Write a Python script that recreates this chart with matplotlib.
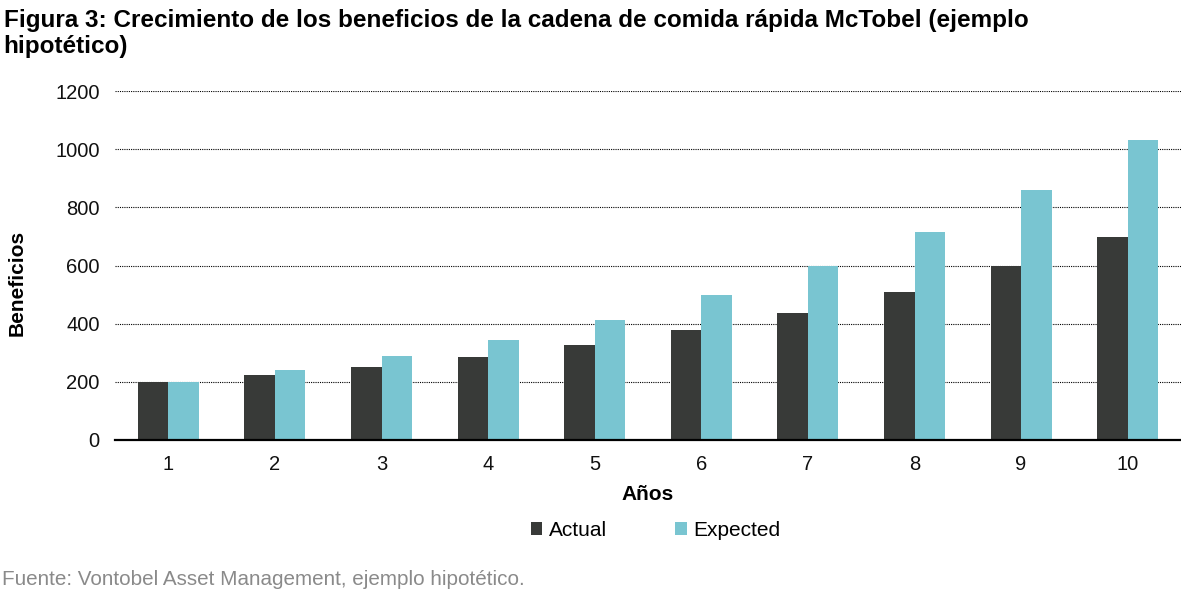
import matplotlib.pyplot as plt
import numpy as np

plt.rcParams['font.family'] = ['Liberation Sans', 'DejaVu Sans']

years = ['1', '2', '3', '4', '5', '6', '7', '8', '9', '10']
actual = [200, 223, 251, 285, 327, 378, 437, 509, 597, 698]
expected = [200, 241, 289, 344, 413, 499, 597, 715, 860, 1032]

c_actual = '#383a38'
c_expected = '#79c5d1'

fig = plt.figure(figsize=(11.81, 5.91), dpi=100)
ax = fig.add_axes([0.0974, 0.2555, 0.9026, 0.5905])

x = np.arange(len(years))
w = 0.286
ax.bar(x - w / 2, actual, w, color=c_actual, label='Actual', zorder=3)
ax.bar(x + w / 2, expected, w, color=c_expected, label='Expected', zorder=3)

ax.set_xlim(-0.5, len(years) - 0.5)
ax.set_ylim(0, 1200)
ax.set_yticks(range(0, 1201, 200))
ax.set_xticks(x)
ax.set_xticklabels(years)
ax.tick_params(axis='both', length=0, labelsize=14.5, colors='#111111')
ax.tick_params(axis='y', pad=11)
ax.tick_params(axis='x', pad=11)

ax.grid(axis='y', color='black', linestyle=(0, (1, 1)), linewidth=0.8, zorder=0)
for s in ['top', 'right', 'left']:
    ax.spines[s].set_visible(False)
ax.spines['bottom'].set_linewidth(1.6)
ax.spines['bottom'].set_color('black')
ax.spines['bottom'].set_zorder(4)

ax.set_xlabel('Años', fontsize=15, fontweight='bold', labelpad=8)
fig.text(0.0145, 0.521, 'Beneficios', rotation=90, fontsize=15, fontweight='bold',
         ha='center', va='center')

fig.text(0.003, 0.985, 'Figura 3: Crecimiento de los beneficios de la cadena de comida rápida McTobel (ejemplo\nhipotético)',
         fontsize=17.5, fontweight='bold', ha='left', va='top', linespacing=1.2)

leg = fig.legend(loc='center', bbox_to_anchor=(0.555, 0.103), ncol=2, frameon=False,
                 fontsize=15, handlelength=0.55, handleheight=0.55, handletextpad=0.3,
                 columnspacing=3.3)

fig.text(0.002, 0.004, 'Fuente: Vontobel Asset Management, ejemplo hipotético.',
         fontsize=14.9, color='#8a8a8a', ha='left', va='bottom')

fig.savefig('out.png', dpi=100)
